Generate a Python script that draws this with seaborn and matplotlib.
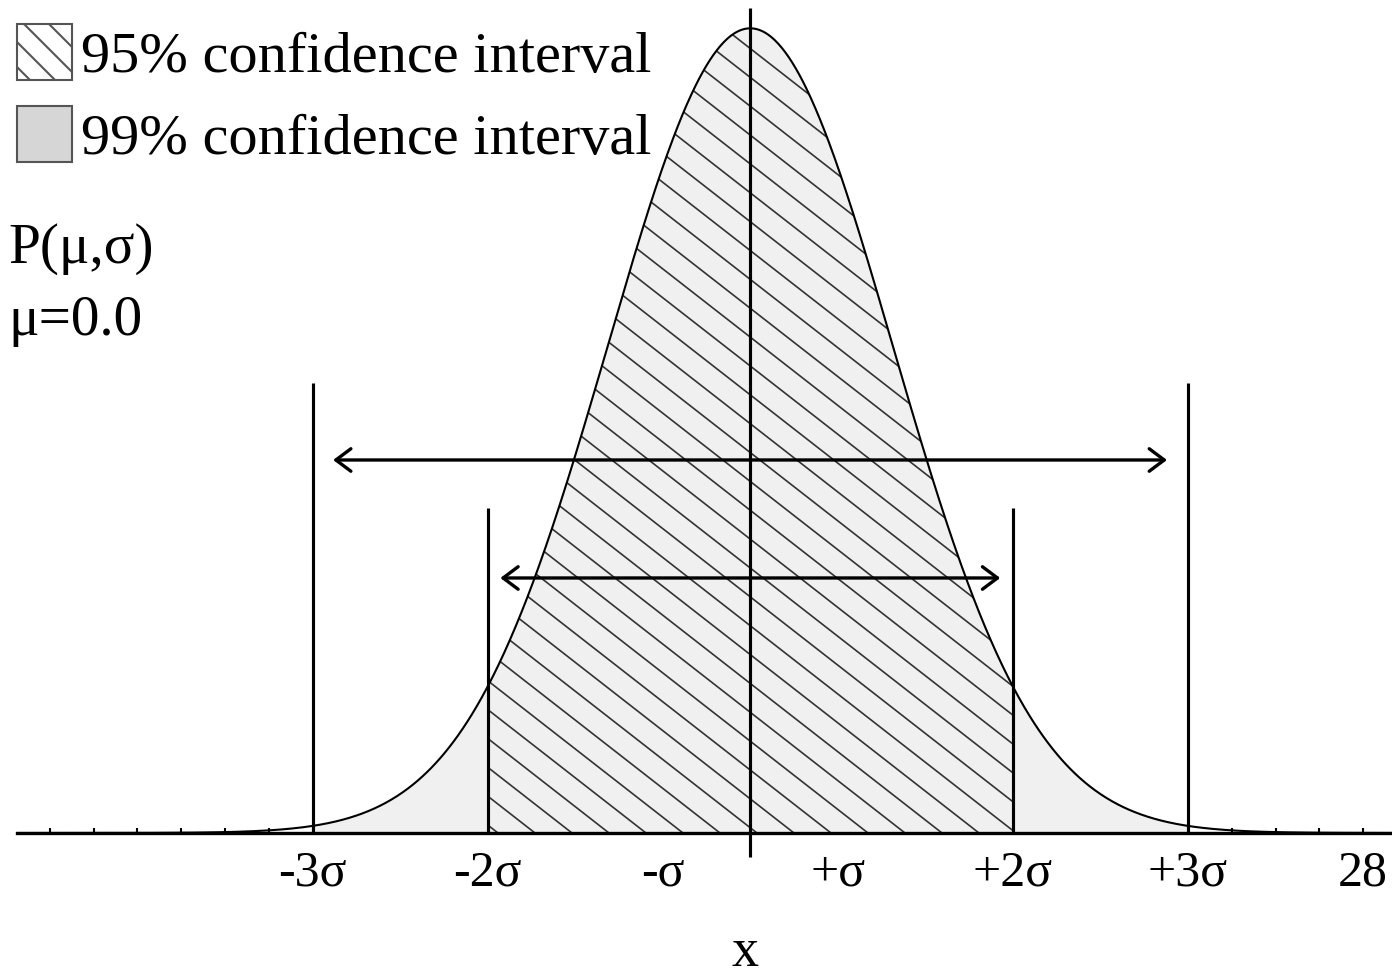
import numpy as np
import pandas as pd
import matplotlib
matplotlib.use("Agg")
import matplotlib.pyplot as plt
from matplotlib.patches import Patch
from matplotlib.collections import LineCollection
import seaborn as sns

# ---- data -------------------------------------------------------------
mean_x = 14.0
sigma_x = 3.25
x_lo, x_hi = -2.75, 28.66

major_ticks = [4, 8, 12, 16, 20, 24, 28]
major_labels = ["-3σ", "-2σ", "-σ", "+σ", "+2σ", "+3σ", "28"]
minor_ticks = list(range(-2, 29))

ci95 = [8.0, 20.0]      # hatched interval
ci99 = [4.0, 24.0]      # grey interval
legend_labels = ["95% confidence interval", "99% confidence interval"]

# ---- figure -----------------------------------------------------------
W, H, DPI = 1392, 977, 150
sns.set_theme(style="white")
plt.rcParams["font.family"] = ["Liberation Serif", "DejaVu Serif"]
plt.rcParams["text.color"] = "black"
plt.rcParams["xtick.color"] = "black"
plt.rcParams["xtick.labelcolor"] = "black"

fig = plt.figure(figsize=(W / DPI, H / DPI), dpi=DPI)
ax = fig.add_axes([0, 0, 1, 1])
ax.set_xlim(-3.14, 28.66)
peak = 1.0 / (sigma_x * np.sqrt(2 * np.pi))
ax.set_ylim(-0.02197, 0.12707)

xs = np.linspace(x_lo, x_hi, 1200)
pdf = np.exp(-0.5 * ((xs - mean_x) / sigma_x) ** 2) * peak
curve = pd.DataFrame({"x": xs, "p": pdf})

# grey 99% region and hatched 95% region under the curve
m99 = (xs >= ci99[0]) & (xs <= ci99[1])
ax.fill_between(xs[m99], 0, pdf[m99], color="#f0f0f0", lw=0, zorder=1)
m95 = (xs >= ci95[0]) & (xs <= ci95[1])
poly95 = ax.fill_between(xs[m95], 0, pdf[m95], color="#f0f0f0", lw=0, zorder=1)

# diagonal hatching (pixel spacing), clipped to the 95% region
slope, step, base_px = 0.78, 37.0, 833.0
segs = []
for c in np.arange(17.0 - 40 * step, W + 40 * step, step):
    x0, y0 = c, base_px
    x1, y1 = c - base_px / slope, 0.0
    segs.append([(x0 / W, 1 - y0 / H), (x1 / W, 1 - y1 / H)])
hatch = LineCollection(segs, colors="#333333", linewidths=0.8,
                       transform=ax.transAxes, zorder=1.5)
ax.add_collection(hatch)
hatch.set_clip_path(poly95.get_paths()[0], ax.transData)

# density curve
sns.lineplot(data=curve, x="x", y="p", ax=ax, color="black", lw=1.0,
             zorder=2, legend=False)
ax.set_xlabel("")
ax.set_ylabel("")

# interval boundaries
ax.vlines([ci99[0], ci99[1]], 0, 0.0686, colors="black", lw=1.5, zorder=3)
ax.vlines([ci95[0], ci95[1]], 0, 0.0496, colors="black", lw=1.5, zorder=3)
ax.vlines([mean_x], -0.0037, 0.1258, colors="black", lw=1.5, zorder=3)

# interval arrows
astyle = "<->,head_length=0.6,head_width=0.45"
ax.annotate("", xy=(4.47, 0.0569), xytext=(23.52, 0.0569),
            arrowprops=dict(arrowstyle=astyle, lw=1.6, color="black",
                            shrinkA=0, shrinkB=0), zorder=4)
ax.annotate("", xy=(8.29, 0.0389), xytext=(19.71, 0.0389),
            arrowprops=dict(arrowstyle=astyle, lw=1.6, color="black",
                            shrinkA=0, shrinkB=0), zorder=4)

# axis styling
for s in ["left", "right", "top"]:
    ax.spines[s].set_visible(False)
ax.spines["bottom"].set_position(("data", 0))
ax.spines["bottom"].set_bounds(x_lo, x_hi)
ax.spines["bottom"].set_color("black")
ax.spines["bottom"].set_linewidth(1.6)
ax.spines["bottom"].set_zorder(3)
ax.set_yticks([])
ax.set_xticks(major_ticks)
ax.set_xticklabels(major_labels)
ax.set_xticks(minor_ticks, minor=True)
ax.tick_params(axis="x", which="both", direction="in", length=2.6,
               width=1.0, color="black", bottom=True)
ax.tick_params(axis="x", which="major", labelsize=24, pad=8,
               labelcolor="black")
ax.grid(False)
ax.patch.set_alpha(0)

# legend
handles = [Patch(facecolor="white", edgecolor="#555555", hatch="\\\\", lw=1.0),
           Patch(facecolor="#d6d6d6", edgecolor="#555555", lw=1.0)]
fig.legend(handles, legend_labels, loc="upper left",
           bbox_to_anchor=(17 / W, 1 - 24 / H), frameon=False, borderpad=0,
           borderaxespad=0, handlelength=0.95, handleheight=1.1,
           handletextpad=0.15, labelspacing=0.38, fontsize=28)

# annotations
fig.text(8 / W, 1 - 263 / H, "P(μ,σ)", fontsize=27.5, va="baseline")
fig.text(8 / W, 1 - 335 / H, "μ=0.0", fontsize=27.5, va="baseline")
fig.text(745 / W, 1 - 966 / H, "x", fontsize=26, va="baseline", ha="center")

fig.savefig("out.png", dpi=DPI)
